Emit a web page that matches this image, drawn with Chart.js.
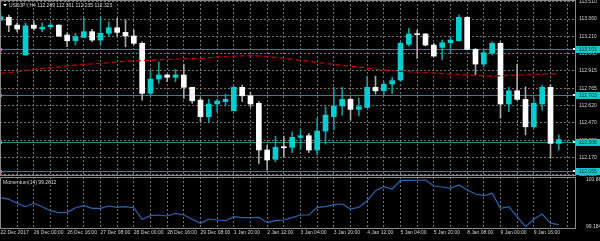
<!DOCTYPE html>
<html><head><meta charset="utf-8">
<script src="https://cdn.jsdelivr.net/npm/chart.js@4.4.1/dist/chart.umd.min.js"></script>
<style>
html,body{margin:0;padding:0;background:#000;}
#wrap{position:relative;width:600px;height:241px;background:#000;overflow:hidden}
#c1{position:absolute;left:0;top:0}
#c2{position:absolute;left:0;top:177px}
</style></head><body>
<div id="wrap"><canvas id="c1" width="600" height="177"></canvas><canvas id="c2" width="600" height="64"></canvas></div>
<script>
const symbolName = 'USDJPY,H4';
const indicatorName = 'Momentum(14)';
const open = [113.352,113.376,113.309,113.051,113.309,113.275,113.295,113.309,113.223,113.174,113.203,113.252,113.180,113.238,113.286,113.246,113.215,113.152,112.721,112.844,112.879,112.859,112.879,112.773,112.663,112.520,112.629,112.649,112.571,112.773,112.700,112.635,112.233,112.153,112.261,112.256,112.342,112.356,112.233,112.396,112.520,112.612,112.669,112.583,112.600,112.773,112.743,112.801,112.836,113.143,113.232,113.232,113.137,113.117,113.157,113.174,113.376,113.100,112.973,113.066,113.152,112.629,112.743,112.669,112.433,112.629,112.773,112.289];
const high = [113.430,113.395,113.329,113.329,113.346,113.329,113.329,113.312,113.243,113.238,113.367,113.272,113.381,113.338,113.367,113.352,113.266,113.165,112.922,112.993,112.887,112.928,112.973,112.775,112.681,112.669,112.669,112.715,112.784,112.793,112.732,112.649,112.276,112.353,112.353,112.390,112.405,112.377,112.506,112.606,112.773,112.773,112.681,112.678,112.870,112.870,112.821,112.859,113.165,113.281,113.266,113.238,113.152,113.180,113.209,113.395,113.381,113.109,113.094,113.165,113.165,112.773,112.973,112.778,112.678,112.793,112.793,112.361];
const low = [113.344,113.252,113.252,113.049,113.266,113.252,113.281,113.209,113.122,113.137,113.200,113.165,113.137,113.209,113.215,113.122,113.137,112.663,112.706,112.807,112.821,112.821,112.678,112.637,112.476,112.476,112.563,112.612,112.569,112.649,112.600,112.118,112.060,112.132,112.175,112.209,112.239,112.209,112.190,112.282,112.405,112.534,112.491,112.526,112.598,112.715,112.706,112.721,112.821,113.128,113.022,113.128,113.036,113.008,113.066,113.170,113.094,112.879,112.950,113.051,112.506,112.563,112.663,112.362,112.420,112.577,112.161,112.235];
const close = [113.381,113.309,113.275,113.303,113.281,113.290,113.309,113.215,113.174,113.209,113.252,113.180,113.238,113.286,113.246,113.215,113.152,112.721,112.844,112.879,112.859,112.879,112.773,112.657,112.520,112.629,112.655,112.669,112.773,112.700,112.629,112.233,112.147,112.256,112.252,112.342,112.356,112.233,112.396,112.534,112.612,112.669,112.583,112.606,112.773,112.743,112.799,112.830,113.152,113.232,113.226,113.137,113.042,113.157,113.180,113.376,113.100,112.973,113.071,113.152,112.629,112.743,112.669,112.433,112.635,112.773,112.290,112.323];
const ma = [112.893,112.900,112.908,112.916,112.928,112.935,112.941,112.948,112.958,112.965,112.971,112.975,112.979,112.986,112.992,112.997,112.999,113.004,113.008,113.010,113.014,113.016,113.019,113.021,113.023,113.028,113.034,113.038,113.041,113.043,113.045,113.043,113.038,113.031,113.023,113.014,113.005,112.997,112.988,112.979,112.971,112.962,112.954,112.948,112.939,112.930,112.922,112.916,112.911,112.906,112.903,112.900,112.896,112.892,112.887,112.883,112.879,112.876,112.873,112.870,112.873,112.876,112.879,112.881,112.885,112.887,112.889,112.890];
const momentum = [100.239,100.181,100.036,99.912,100.036,99.912,99.766,99.693,99.708,99.875,99.948,99.854,99.854,99.937,99.890,99.912,99.875,99.453,99.584,99.610,99.573,99.672,99.610,99.453,99.308,99.464,99.428,99.402,99.548,99.512,99.512,99.526,99.330,99.402,99.428,99.512,99.610,99.610,99.890,99.912,99.985,100.010,99.828,99.890,100.130,100.494,100.640,100.556,100.872,100.872,100.875,100.8836,100.665,100.629,100.581,100.701,100.520,100.374,100.312,100.399,99.854,99.912,99.548,99.184,99.453,99.646,99.308,99.2612];
const timeLabels = ['22 Dec 2017','26 Dec 00:00','26 Dec 16:00','27 Dec 08:00','28 Dec 00:00','28 Dec 16:00','29 Dec 08:00','1 Jan 20:00','2 Jan 12:00','3 Jan 04:00','3 Jan 20:00','4 Jan 12:00','5 Jan 04:00','5 Jan 20:00','8 Jan 08:00','9 Jan 00:00','9 Jan 16:00'];
const priceTicks = [113.510,113.361,113.212,113.063,112.914,112.765,112.616,112.467,112.318,112.169,112.020];
const priceTickLabels = ['113.510','113.360','113.210','113.065','112.915','112.765','112.620','112.470','112.320','112.170','112.020'];
const levelPrices = [113.101,112.703,112.306,112.055];
const momTicks = [100.8836,99.184];
const momTickLabels = ['100.8836','99.184'];

const FONT = '"Liberation Sans", Arial, sans-serif';
Chart.defaults.font.family = FONT;
Chart.defaults.font.size = 5;
Chart.defaults.color = '#d4d4d4';

const idx = open.map((_, i) => i);
const isUp = i => close[i] >= open[i];
const xMin = -0.06, xMax = 69.06;
const lastSlot = 68;
const gridColor = '#737373';

function gridTicks(scale) {
  const t = [];
  for (let b = 0; b <= lastSlot; b += 2) t.push({value: b});
  scale.ticks = t;
}

const framePlugin = {
  id: 'frame',
  afterDraw(chart) {
    const {ctx, chartArea: a} = chart;
    ctx.save();
    ctx.strokeStyle = '#8a8a8a';
    ctx.lineWidth = 1;
    ctx.strokeRect(a.left + 0.5, a.top + 0.5, a.right - a.left - 1, a.bottom - a.top - 1);
    ctx.restore();
  }
};

const levelPlugin = {
  id: 'levels',
  beforeDatasetsDraw(chart) {
    const {ctx, chartArea: a, scales: {y}} = chart;
    ctx.save();
    ctx.strokeStyle = '#1a8c8c';
    ctx.lineWidth = 1;
    levelPrices.forEach(v => {
      const py = Math.round(y.getPixelForValue(v)) + 0.5;
      ctx.beginPath(); ctx.moveTo(a.left, py); ctx.lineTo(a.right, py); ctx.stroke();
    });
    ctx.restore();
  },
  afterDraw(chart) {
    const {ctx, chartArea: a, scales: {y}} = chart;
    ctx.save();
    levelPrices.forEach(v => {
      const py = Math.round(y.getPixelForValue(v));
      ctx.fillStyle = '#12c8cc';
      ctx.fillRect(a.right, py - 3, 24, 7);
      ctx.fillRect(a.left, py - 1, 2, 3);
      ctx.fillStyle = '#e8ffff';
      ctx.fillRect(a.right - 3, py - 1, 2, 2);
      ctx.fillStyle = '#063030';
      ctx.font = '5px ' + FONT;
      ctx.textBaseline = 'middle';
      ctx.textAlign = 'left';
      ctx.fillText(v.toFixed(3), a.right + 3, py + 0.5);
    });
    // title
    const n = open.length - 1;
    ctx.fillStyle = '#ffffff';
    ctx.beginPath(); ctx.moveTo(3, 4); ctx.lineTo(7, 4); ctx.lineTo(5, 6.5); ctx.closePath(); ctx.fill();
    ctx.fillStyle = '#d4d4d4';
    ctx.font = '5px ' + FONT;
    ctx.textBaseline = 'middle';
    ctx.fillText(symbolName + ' ' + [open[n], high[n], low[n], close[n]].map(v => v.toFixed(3)).join(' '), 9, 5.5);
    ctx.restore();
  }
};

const momLabelPlugin = {
  id: 'momlabel',
  afterDraw(chart) {
    const {ctx} = chart;
    ctx.save();
    ctx.fillStyle = '#d4d4d4';
    ctx.font = '5px ' + FONT;
    ctx.textBaseline = 'middle';
    ctx.fillText(indicatorName + ' ' + momentum[momentum.length - 1].toFixed(4), 3, 5.5);
    ctx.restore();
  }
};

new Chart(document.getElementById('c1'), {
  type: 'bar',
  data: {
    datasets: [
      {type: 'line', label: 'MA', data: idx.map(i => ({x: i, y: ma[i]})), borderColor: '#b00000', borderWidth: 1.3, borderDash: [5, 3], pointRadius: 0, tension: 0, order: 0},
      {label: 'body', data: idx.map(i => ({x: i, y: [open[i], close[i]]})), backgroundColor: idx.map(i => isUp(i) ? '#00ced1' : '#ffffff'), barThickness: 5, minBarLength: 1, grouped: false, order: 1},
      {label: 'wick', data: idx.map(i => ({x: i, y: [low[i], high[i]]})), backgroundColor: idx.map(i => isUp(i) ? '#109c9c' : '#a8a8a8'), barThickness: 1, grouped: false, order: 2}
    ]
  },
  options: {
    responsive: false, animation: false, devicePixelRatio: 1,
    layout: {padding: {top: 0, bottom: 1, left: 0, right: 0}},
    plugins: {legend: {display: false}, tooltip: {enabled: false}},
    events: [],
    scales: {
      x: {type: 'linear', min: xMin, max: xMax, offset: false, afterBuildTicks: gridTicks,
          ticks: {display: false}, grid: {color: gridColor, drawTicks: false, offset: false},
          border: {display: false, dash: [2, 2]},
          afterFit(s) { s.height = 0; s.paddingLeft = 0; s.paddingRight = 0; }},
      y: {position: 'right', min: 112.009, max: 113.525,
          afterBuildTicks(s) { s.ticks = priceTicks.map(v => ({value: v})); },
          ticks: {callback: (v, i) => priceTickLabels[i], padding: 3, autoSkip: false},
          grid: {color: gridColor, drawTicks: false},
          border: {display: false, dash: [2, 2]},
          afterFit(s) { s.width = 24; s.paddingTop = 0; s.paddingBottom = 0; }}
    }
  },
  plugins: [levelPlugin, framePlugin]
});

new Chart(document.getElementById('c2'), {
  type: 'line',
  data: {datasets: [{label: 'Momentum', data: idx.map(i => ({x: i, y: momentum[i]})), borderColor: '#2a66b0', borderWidth: 1.2, pointRadius: 0, tension: 0}]},
  options: {
    responsive: false, animation: false, devicePixelRatio: 1,
    layout: {padding: 0},
    plugins: {legend: {display: false}, tooltip: {enabled: false}},
    events: [],
    scales: {
      x: {type: 'linear', min: xMin, max: xMax, offset: false, afterBuildTicks: gridTicks,
          ticks: {callback: v => (v % 4 === 0 && timeLabels[v / 4]) ? timeLabels[v / 4] : '', align: 'start', maxRotation: 0, minRotation: 0, autoSkip: false, padding: 1},
          grid: {color: gridColor, drawTicks: false, offset: false},
          border: {display: false, dash: [2, 2]},
          afterFit(s) { s.height = 12; s.paddingLeft = 0; s.paddingRight = 0; }},
      y: {position: 'right', min: 99.100, max: 100.993,
          afterBuildTicks(s) { s.ticks = momTicks.map(v => ({value: v})); },
          ticks: {callback: (v, i) => momTickLabels[i], padding: 2, autoSkip: false},
          grid: {display: false}, border: {display: false},
          afterFit(s) { s.width = 24; s.paddingTop = 0; s.paddingBottom = 0; }}
    }
  },
  plugins: [framePlugin, momLabelPlugin]
});
</script>
</body></html>
